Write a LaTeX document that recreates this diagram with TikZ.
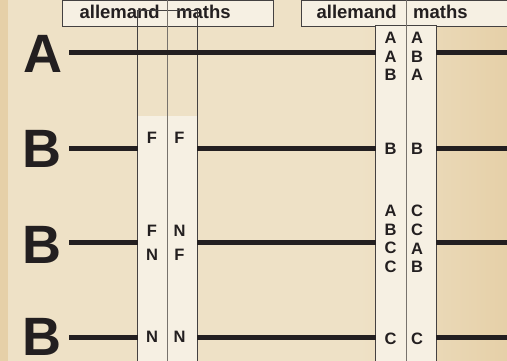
\documentclass[tikz,border=0pt]{standalone}
\usepackage{fontspec}
\setmainfont{Liberation Sans}
\usepackage{xcolor}
\usepackage{tikz}
\usetikzlibrary{positioning}

\definecolor{sable}{HTML}{EEE1C6}
\definecolor{sablefonce}{HTML}{E6D0A8}
\definecolor{papier}{HTML}{F6F0E3}
\definecolor{encre}{HTML}{231F20}
\definecolor{trait}{HTML}{77726C}

\begin{document}
\begin{tikzpicture}[
            x=1pt,y=-1pt,
            big/.style={font=\fontsize{54}{54}\selectfont\bfseries,inner sep=0pt,text=encre},
            cell/.style={font=\fontsize{16.5}{18.7}\selectfont\bfseries,inner sep=0pt,text=encre,align=center},
            cellwide/.style={cell,font=\fontsize{16.5}{24}\selectfont\bfseries},
            head/.style={font=\fontsize{18.5}{18.5}\selectfont\bfseries,inner sep=0pt,text=encre},
            bar/.style={line width=5pt,draw=encre},
            frame/.style={draw=encre!85,line width=0.9pt},
            split/.style={draw=trait,line width=0.9pt}
        ]
            \useasboundingbox (0,0) rectangle (507,361);

            % Background
            \fill[sable] (0,0) rectangle (507,361);
            \shade[left color=sable,right color=sablefonce] (360,0) rectangle (507,361);
            \fill[sablefonce] (0,0) rectangle (8,361);

            % Headers
            \draw[frame,fill=papier] (62,0.5) rectangle (273,26);
            \draw[frame,fill=papier] (301,0.5) rectangle (510,26);
            \node[head,anchor=base east] (hL1) at (160,18.3) {allemand};
            \node[head,anchor=base west] (hL2) at (176,18.3) {maths};
            \node[head,anchor=base east] (hR1) at (397,18.3) {allemand};
            \node[head,anchor=base west] (hR2) at (413,18.3) {maths};

            % Columns
            \node[inner sep=0pt,minimum width=59pt,minimum height=350pt] (colL) at (167.5,186) {};
            \node[inner sep=0pt,minimum width=60pt,minimum height=336pt] (colR) at (406,194) {};
            \fill[papier] (colL.west |- 0,116) rectangle (colL.south east);
            \draw[frame] (colL.south west) -- (colL.north west) -- (colL.north east) -- (colL.south east);
            \draw[split] (167,0) -- (167,362);
            \draw[frame,fill=papier] (colR.south west) rectangle (colR.north east);
            \draw[split] (406,0) -- (406,362);

            % Rows
            \coordinate (bord) at (507,0);
            \foreach \r/\y in {A/53,B1/149,B2/242,B3/337} {
                \coordinate (r\r) at (69,\y);
            }
            \node[big] (gA) at (43,54) {A};
            \node[big] (gB1) at (42,149) {B};
            \node[big] (gB2) at (42,245) {B};
            \node[big] (gB3) at (42,337) {B};

            % Bars
            \draw[bar] (rA) -- (rA -| colR.west);
            \draw[bar] (rA -| colR.east) -- (rA -| bord);
            \foreach \r in {B1,B2,B3} {
                \draw[bar] (r\r) -- (r\r -| colL.west);
                \draw[bar] (r\r -| colL.east) -- (r\r -| colR.west);
                \draw[bar] (r\r -| colR.east) -- (r\r -| bord);
            }

            % Marks, left
            \foreach \x/\y/\t [count=\i] in {152/138/F,179.5/138/F,152/243/{F\\N},179.5/243/{N\\F},152/337/N,179.5/337/N} {
                \node[cellwide] (mL\i) at (\x,\y) {\t};
            }

            % Marks, right
            \foreach \x/\y/\t [count=\i] in {390.5/56.5/{A\\A\\B},417/56.5/{A\\B\\A},390.5/149/B,417/149/B,
                                               390.5/239/{A\\B\\C\\C},417/239/{C\\C\\A\\B},390.5/339/C,417/339/C} {
                \node[cell] (mR\i) at (\x,\y) {\t};
            }
        \end{tikzpicture}
\end{document}
